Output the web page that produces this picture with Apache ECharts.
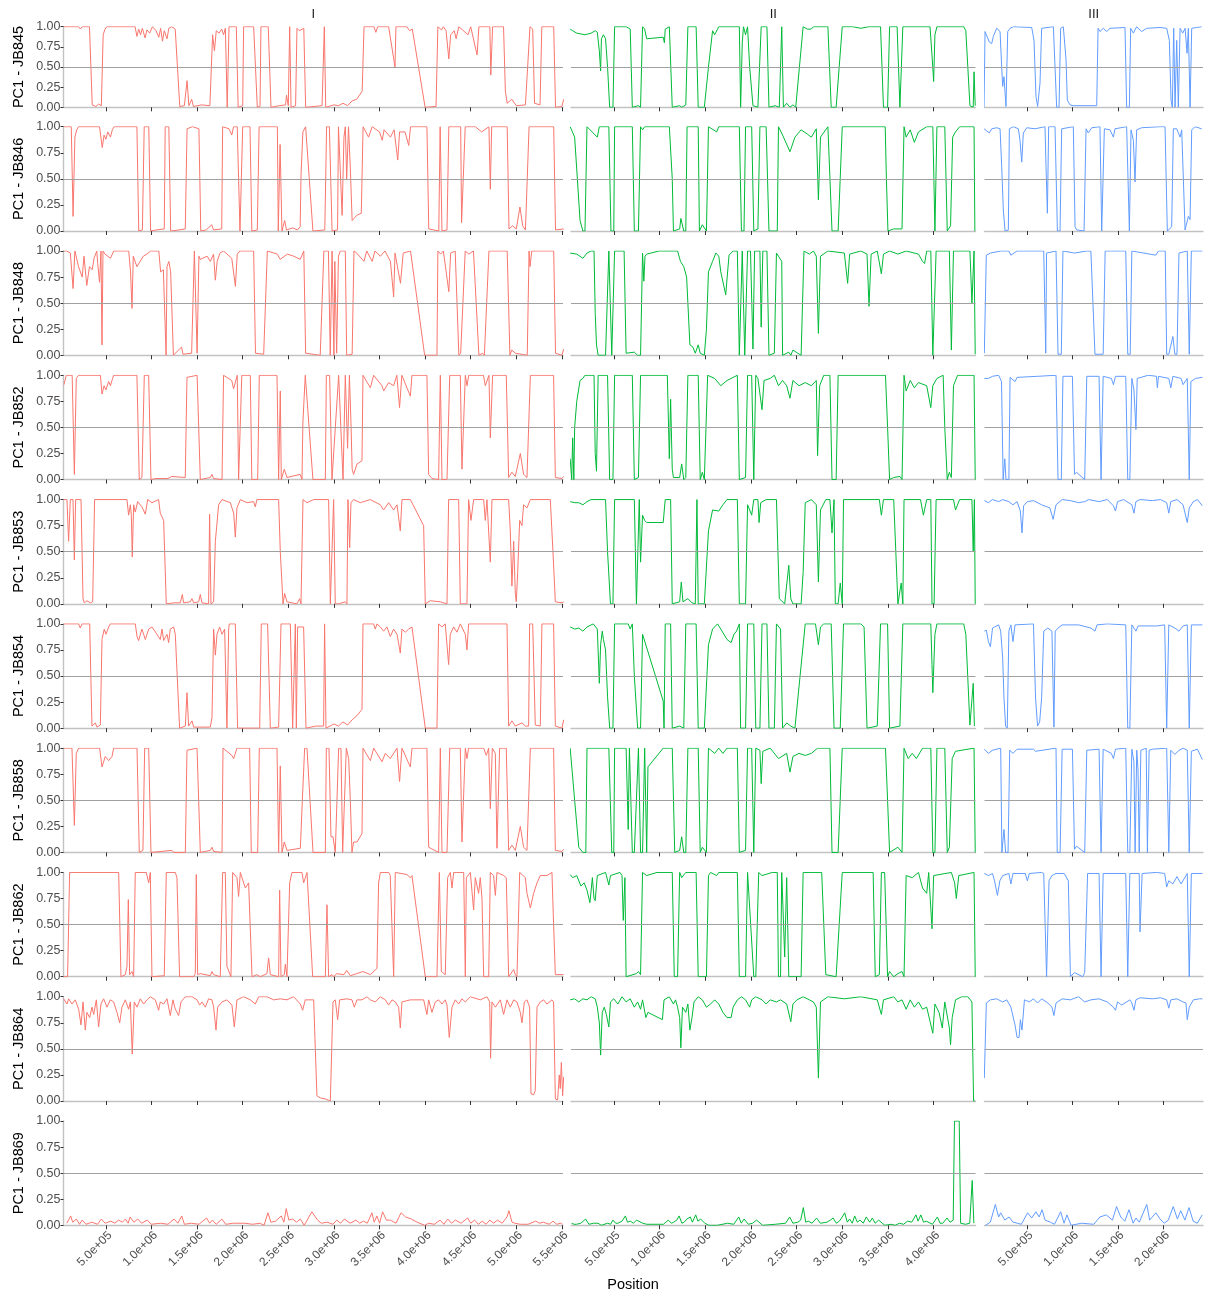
<!DOCTYPE html>
<html>
<head>
<meta charset="utf-8">
<script src="https://cdn.jsdelivr.net/npm/echarts@6/dist/echarts.min.js"></script>
<style>
html,body{margin:0;padding:0;background:#fff;}
#chart{width:1209px;height:1298px;}
</style>
</head>
<body>
<div id="chart"></div>
<script>
// Sample / chromosome layout
const samples = ['JB845','JB846','JB848','JB852','JB853','JB854','JB858','JB862','JB864','JB869'];
const chromosomes = ['I','II','III'];
const chromColors = ['#F8766D','#00BA38','#619CFF'];
// x tick positions (Mb)
const ticksI = [0.5,1,1.5,2,2.5,3,3.5,4,4.5,5,5.5];
const ticksII = [0.5,1,1.5,2,2.5,3,3.5,4];
const ticksIII = [0.5,1,1.5,2];

// Each track: [position (Mb), PC1 score]
const jb845_I = [[0.04,1],[0.20,1],[0.22,0.97],[0.24,1],[0.32,1],[0.35,0.03],[0.37,0.05],[0.39,0.01],[0.42,0.04],[0.45,0.02],[0.47,0.9],[0.49,0.97],[0.51,1],[0.82,1],[0.84,0.88],[0.86,0.97],[0.88,0.9],[0.90,0.98],[0.93,0.86],[0.95,0.96],[0.98,0.92],[1.01,1],[1.05,0.95],[1.08,0.87],[1.10,0.98],[1.12,0.82],[1.14,0.95],[1.17,0.85],[1.19,0.98],[1.22,1],[1.26,0.97],[1.31,0.01],[1.36,0.02],[1.39,0.33],[1.41,0.02],[1.44,0.1],[1.46,0.01],[1.55,0.03],[1.64,0.02],[1.67,0.9],[1.69,0.7],[1.71,0.95],[1.74,0.92],[1.77,0.97],[1.79,0.9],[1.81,0.98],[1.83,0],[1.85,1],[1.93,1],[1.95,0],[2.00,0.02],[2.01,1],[2.12,1],[2.16,0],[2.19,0.01],[2.20,1],[2.28,1],[2.31,0],[2.40,0.02],[2.47,0.03],[2.48,0.15],[2.50,0.02],[2.515,1],[2.53,0],[2.58,0.02],[2.595,0.98],[2.62,0.95],[2.67,0.98],[2.69,0],[2.87,0.02],[2.895,1],[2.91,0],[3.0,0.03],[3.05,0.02],[3.10,0.05],[3.15,0.02],[3.20,0.08],[3.25,0.1],[3.31,0.2],[3.33,1],[3.44,1],[3.46,0.93],[3.48,1],[3.60,1],[3.67,0.5],[3.68,1],[3.80,1],[3.83,0.95],[3.86,0.97],[4.00,0],[4.12,0.01],[4.14,1],[4.18,0.96],[4.20,1],[4.23,0.95],[4.26,0.6],[4.28,0.9],[4.32,0.95],[4.34,0.85],[4.37,1],[4.47,0.9],[4.50,1],[4.57,0.65],[4.59,1],[4.71,1],[4.72,0.4],[4.74,1],[4.86,1],[4.88,0.2],[4.90,0.05],[4.95,0.1],[5.00,0.02],[5.10,0.03],[5.12,0.05],[5.15,1],[5.18,0.97],[5.20,0.05],[5.26,0.03],[5.28,1],[5.41,1],[5.43,0],[5.50,0.01],[5.52,0.1]];
const jb845_II = [[0.023,0.97],[0.05,0.95],[0.095,0.92],[0.185,0.9],[0.252,0.92],[0.297,0.95],[0.32,0.93],[0.342,0.7],[0.356,0.45],[0.365,0.85],[0.387,0.9],[0.41,0.85],[0.432,0.5],[0.455,0],[0.491,0],[0.509,1],[0.635,1],[0.68,0.97],[0.703,0],[0.77,0.02],[0.793,0],[0.815,1],[0.838,0.97],[0.86,0.85],[1.041,0.87],[1.054,0.8],[1.063,0.97],[1.108,1],[1.14,0],[1.221,0.02],[1.243,0],[1.288,0.03],[1.311,1],[1.401,1],[1.424,0],[1.491,0],[1.536,0.5],[1.581,0.95],[1.604,0.9],[1.649,1],[1.874,1],[1.888,0],[1.906,0.8],[1.919,1],[1.942,0.9],[1.964,1],[1.987,0.5],[2.023,0.02],[2.077,0],[2.113,1],[2.176,1],[2.198,0],[2.266,0.02],[2.311,0],[2.338,1],[2.356,0],[2.392,0.05],[2.428,0],[2.46,0.03],[2.491,0],[2.572,1],[2.617,0.97],[2.662,0.97],[2.685,1],[2.843,1],[2.879,0],[2.933,0],[3.0,1],[3.113,1],[3.203,0.98],[3.293,1],[3.419,1],[3.451,0],[3.496,0],[3.518,1],[3.6,1],[3.631,0],[3.663,1],[3.96,1],[3.982,0.65],[4.0,0.32],[4.014,0.9],[4.036,1],[4.329,1],[4.352,0.95],[4.397,0.02],[4.433,0],[4.442,0.44],[4.455,0.02]];
const jb845_III = [[0.029,0],[0.04,0.94],[0.058,0.96],[0.087,0.81],[0.113,0.79],[0.131,0.88],[0.168,0.98],[0.205,0.94],[0.223,0.5],[0.234,0.26],[0.248,0.38],[0.27,0.01],[0.289,0.94],[0.314,0.98],[0.351,1],[0.553,0.99],[0.578,0.83],[0.6,0.13],[0.618,0.01],[0.644,0.3],[0.662,0.98],[0.681,1],[0.791,1],[0.809,0.5],[0.827,0],[0.853,0],[0.871,0.98],[0.9,1],[0.93,0.59],[0.944,0.09],[0.974,0.03],[1.01,0.02],[1.23,0.02],[1.267,0.02],[1.282,0.98],[1.303,0.94],[1.34,0.98],[1.377,0.94],[1.413,0.98],[1.578,0.99],[1.596,0],[1.626,0],[1.64,0.98],[1.67,0.92],[1.706,1],[1.761,0.94],[1.816,0.98],[1.963,0.99],[2.036,0.98],[2.065,0.83],[2.084,0.09],[2.098,0],[2.113,0.98],[2.128,0],[2.146,0.83],[2.164,0],[2.183,0.98],[2.212,0.92],[2.238,0.98],[2.26,0.67],[2.274,0.98],[2.293,0],[2.311,0.98],[2.329,0.96],[2.366,0.99],[2.42,1]];

const jb846_I = [[0.04,1],[0.12,1],[0.14,0.14],[0.16,0.9],[0.18,0.97],[0.2,1],[0.43,1],[0.46,0.8],[0.48,0.92],[0.5,0.88],[0.52,0.95],[0.55,0.9],[0.57,0.97],[0.59,1],[0.84,1],[0.86,0],[0.9,0.01],[0.92,1],[0.97,1],[0.99,0],[1.05,0.01],[1.14,0.02],[1.15,1],[1.19,1],[1.21,0],[1.3,0.01],[1.37,0.02],[1.39,0.98],[1.45,1],[1.52,0.98],[1.54,0],[1.6,0.01],[1.66,0.06],[1.68,0.01],[1.77,0.02],[1.78,1],[1.85,0.98],[1.88,0.92],[1.9,1],[1.94,1],[1.97,0],[1.99,0.01],[2.0,1],[2.08,1],[2.10,0],[2.16,0.01],[2.18,1],[2.38,1],[2.39,0],[2.41,0.83],[2.43,0],[2.46,0.1],[2.48,0.01],[2.55,0.03],[2.6,0.01],[2.63,0.04],[2.64,0.55],[2.66,0.95],[2.69,1],[2.77,0],[2.9,0.01],[2.92,1],[2.95,1],[2.98,0],[3.04,0.01],[3.05,1],[3.07,1],[3.09,0.15],[3.11,0.9],[3.125,1],[3.14,0.5],[3.16,1],[3.18,0.6],[3.20,0.1],[3.22,0.12],[3.25,0.15],[3.30,0.17],[3.32,1],[3.38,0.9],[3.42,1],[3.5,0.95],[3.53,0.87],[3.55,0.97],[3.62,0.9],[3.66,0.97],[3.70,0.68],[3.72,0.95],[3.78,0.95],[3.82,0.82],[3.84,1],[4.02,1],[4.04,0.02],[4.15,0],[4.165,1],[4.185,0],[4.24,0.01],[4.26,1],[4.39,1],[4.40,0.08],[4.44,1],[4.55,1],[4.62,0.95],[4.70,1],[4.715,0.4],[4.73,1],[4.9,1],[4.92,0.02],[4.96,0.05],[5.0,0.02],[5.04,0.23],[5.07,0.05],[5.10,0.01],[5.14,1],[5.41,1],[5.43,0.01],[5.52,0.02]];
const jb846_II = [[0.023,1],[0.072,0.9],[0.131,0.1],[0.162,0],[0.185,0],[0.207,1],[0.32,0.9],[0.342,1],[0.446,1],[0.469,0],[0.5,0],[0.509,1],[0.703,1],[0.725,0],[0.77,0],[0.793,1],[0.815,0.97],[0.838,1],[1.108,1],[1.14,0.5],[1.153,0],[1.221,0.02],[1.234,0.12],[1.266,0],[1.288,0],[1.302,1],[1.424,1],[1.437,0],[1.469,0.06],[1.514,0],[1.536,1],[1.626,0.95],[1.649,1],[1.874,1],[1.897,0],[1.925,0],[1.942,1],[2.009,1],[2.032,0],[2.077,0.02],[2.099,1],[2.167,1],[2.198,0],[2.289,0],[2.302,1],[2.347,0.92],[2.428,0.76],[2.482,0.9],[2.55,0.97],[2.617,0.93],[2.662,0.9],[2.716,0.98],[2.739,0.3],[2.762,0.9],[2.843,1],[2.888,0],[2.955,0],[3.0,1],[3.47,1],[3.483,0.5],[3.50,0],[3.563,0.02],[3.654,0.02],[3.676,1],[3.699,0.9],[3.744,0.97],[3.789,0.85],[3.834,0.95],[3.924,1],[3.991,1],[4.014,0],[4.036,1],[4.122,1],[4.149,0],[4.185,0.05],[4.208,0.9],[4.239,0.95],[4.284,1],[4.442,1],[4.451,0]];
const jb846_III = [[0.029,0.98],[0.058,0.96],[0.087,0.94],[0.113,0.98],[0.168,0.99],[0.205,0.98],[0.223,0.62],[0.241,0.2],[0.26,0],[0.278,0],[0.296,0.01],[0.307,0.98],[0.351,1],[0.406,0.98],[0.424,0.87],[0.443,0.66],[0.461,0.94],[0.498,0.99],[0.589,0.98],[0.699,1],[0.71,0.62],[0.725,0.17],[0.739,1],[0.809,1],[0.835,0],[0.864,0],[0.882,0.98],[1.01,1],[1.029,0.04],[1.047,0.01],[1.128,0],[1.15,0.98],[1.175,0.94],[1.212,0.99],[1.303,1],[1.322,0],[1.34,0],[1.351,0.98],[1.413,0.97],[1.45,0.9],[1.468,0.98],[1.596,1],[1.626,0],[1.644,0.97],[1.67,0.87],[1.688,0.47],[1.706,0.97],[1.761,0.99],[1.963,1],[2.018,1],[2.043,0],[2.091,0.04],[2.109,0.98],[2.146,0.98],[2.183,0.9],[2.201,0.97],[2.238,0.01],[2.274,0.14],[2.293,0.11],[2.311,0.97],[2.348,1],[2.42,0.98]];

const jb848_I = [[0.04,1],[0.07,1],[0.11,0.98],[0.14,0.64],[0.16,1],[0.20,0.85],[0.24,0.75],[0.26,0.95],[0.29,0.67],[0.32,0.85],[0.35,0.82],[0.37,0.93],[0.40,1],[0.41,0.88],[0.43,0.7],[0.446,1],[0.457,0.1],[0.468,1],[0.49,0.97],[0.55,0.93],[0.585,1],[0.75,1],[0.77,0.8],[0.786,0.45],[0.80,0.95],[0.84,0.85],[0.91,0.95],[0.95,0.97],[0.99,1],[1.08,1],[1.10,0.8],[1.13,0.82],[1.16,0],[1.17,0.85],[1.19,0.9],[1.21,0.8],[1.24,0],[1.26,0.01],[1.33,0.08],[1.345,0.01],[1.44,0.02],[1.47,1],[1.50,0.02],[1.52,0.95],[1.535,0.92],[1.61,0.95],[1.645,0.9],[1.68,0.97],[1.70,0.72],[1.72,0.9],[1.75,0.98],[1.79,1],[1.88,0.93],[1.92,0.66],[1.94,0.97],[1.97,1],[2.12,1],[2.14,0.02],[2.23,0.01],[2.27,1],[2.38,0.97],[2.41,0.92],[2.49,0.97],[2.56,0.95],[2.63,0.92],[2.67,1],[2.69,0.02],[2.85,0],[2.89,1],[2.94,1],[2.96,0],[2.98,1],[3.00,0],[3.01,0.9],[3.03,0.02],[3.05,0.95],[3.07,1],[3.125,1],[3.14,0],[3.20,0.01],[3.22,1],[3.25,0.98],[3.33,0.9],[3.36,1],[3.42,0.9],[3.45,1],[3.51,0.95],[3.56,1],[3.62,0.9],[3.655,0.56],[3.67,0.98],[3.73,0.69],[3.76,0.98],[3.84,1],[3.995,0],[4.13,0],[4.14,1],[4.17,0.97],[4.20,1],[4.26,0.61],[4.28,0.98],[4.33,1],[4.37,0],[4.39,0.02],[4.44,1],[4.48,0.97],[4.53,1],[4.59,0],[4.63,0.02],[4.65,0],[4.70,1],[4.90,1],[4.93,0],[4.95,0.05],[4.99,0.02],[5.12,0],[5.14,1],[5.15,0.85],[5.17,1],[5.41,1],[5.43,0.02],[5.50,0],[5.52,0.06]];
const jb848_II = [[0.023,0.98],[0.095,0.97],[0.162,0.93],[0.207,0.98],[0.252,1],[0.284,1],[0.297,0.4],[0.311,0.1],[0.329,0],[0.41,0],[0.446,1],[0.478,0],[0.509,1],[0.613,1],[0.635,0.02],[0.725,0.03],[0.761,0],[0.793,0],[0.815,0.98],[0.829,0.71],[0.842,0.95],[0.86,0.97],[0.996,1],[1.198,1],[1.23,0.9],[1.266,0.85],[1.297,0.75],[1.311,0.5],[1.333,0.1],[1.365,0.08],[1.392,0.02],[1.424,0.1],[1.446,0.02],[1.491,0],[1.514,0.25],[1.536,0.8],[1.581,0.9],[1.617,0.98],[1.649,0.95],[1.671,0.8],[1.725,0.58],[1.761,0.96],[1.806,1],[1.852,1],[1.874,0],[1.906,1],[1.933,0],[1.964,1],[1.996,1],[2.023,0.06],[2.041,1],[2.099,1],[2.113,0.27],[2.131,1],[2.176,1],[2.198,0],[2.257,0.02],[2.28,0.98],[2.302,0.95],[2.338,0.9],[2.347,0],[2.415,0.03],[2.437,0],[2.46,0.05],[2.55,0],[2.581,1],[2.64,0.97],[2.685,1],[2.716,0.95],[2.739,0.21],[2.762,0.95],[2.843,1],[3.023,0.98],[3.059,0.69],[3.081,0.97],[3.203,1],[3.271,0.97],[3.293,0.47],[3.316,0.97],[3.383,1],[3.428,0.78],[3.451,0.97],[3.518,1],[3.609,0.97],[3.699,1],[3.834,0.97],[3.879,0.9],[3.901,0.88],[3.924,1],[3.969,1],[3.991,0],[4.027,1],[4.172,1],[4.194,0.05],[4.217,1],[4.397,1],[4.419,0.5],[4.442,1],[4.455,0.01]];
const jb848_III = [[0.032,0.02],[0.054,0.96],[0.099,0.98],[0.212,1],[0.302,1],[0.324,0.96],[0.392,1],[0.685,1],[0.707,0.02],[0.716,0.98],[0.82,1],[0.842,0.01],[0.878,0.01],[0.896,1],[1.023,0.98],[1.158,1],[1.203,1],[1.248,0.01],[1.338,0.01],[1.36,1],[1.586,1],[1.608,0.01],[1.635,0.01],[1.653,1],[1.915,0.96],[1.946,1],[2.02,1],[2.036,0.01],[2.059,0.01],[2.104,0.18],[2.126,0.01],[2.149,0.01],[2.171,0.98],[2.216,0.99],[2.262,1],[2.284,0.01],[2.307,1],[2.428,1]];

const jb852_I = [[0.04,0.91],[0.066,1],[0.13,1],[0.154,0.05],[0.175,0.97],[0.2,1],[0.44,1],[0.457,0.82],[0.48,0.9],[0.5,0.86],[0.53,0.94],[0.55,0.9],[0.57,0.96],[0.585,1],[0.84,1],[0.866,0],[0.895,0.02],[0.921,1],[0.969,1],[0.994,0],[1.05,0.01],[1.18,0.01],[1.22,0.03],[1.37,0.02],[1.389,0.98],[1.50,1],[1.535,0],[1.645,0.02],[1.663,0.05],[1.68,0.01],[1.773,0],[1.79,1],[1.88,0.95],[1.90,0.87],[1.94,1],[1.955,0],[1.99,1],[2.083,1],[2.10,0],[2.164,0],[2.182,1],[2.376,1],[2.394,0],[2.412,0.85],[2.423,0],[2.456,0.1],[2.485,0.02],[2.63,0.05],[2.65,0],[2.66,0.55],[2.686,1],[2.705,1],[2.77,0],[2.906,0],[2.917,1],[2.953,1],[2.979,0],[3.052,1],[3.07,1],[3.10,0],[3.125,1],[3.15,0.3],[3.17,1],[3.187,0.55],[3.20,0.1],[3.216,0.05],[3.253,0.15],[3.308,0.18],[3.319,1],[3.40,0.88],[3.436,1],[3.527,0.9],[3.545,0.85],[3.60,0.93],[3.655,0.9],[3.69,1],[3.72,0.69],[3.745,1],[3.838,0.8],[3.856,1],[4.02,1],[4.039,0.05],[4.076,0.01],[4.148,0],[4.167,1],[4.185,0],[4.24,0],[4.27,1],[4.386,1],[4.404,0.1],[4.441,1],[4.46,0.9],[4.478,1],[4.64,1],[4.66,0.9],[4.70,1],[4.715,0.4],[4.74,1],[4.89,1],[4.916,0.02],[4.952,0.07],[4.989,0.03],[5.044,0.25],[5.08,0.05],[5.117,0.02],[5.154,1],[5.409,1],[5.428,0.02],[5.50,0.01],[5.519,0.03]];
const jb852_II = [[0.023,0.2],[0.04,0],[0.05,0.4],[0.063,0],[0.072,0.5],[0.095,0.75],[0.131,0.95],[0.162,0.97],[0.185,1],[0.284,1],[0.297,0.25],[0.311,0.08],[0.329,1],[0.432,1],[0.455,0],[0.491,0],[0.509,1],[0.703,1],[0.725,0],[0.77,0.02],[0.793,1],[1.086,1],[1.108,0.2],[1.122,0.77],[1.14,0.1],[1.153,0.02],[1.221,0.02],[1.243,0.15],[1.266,0],[1.288,0.02],[1.311,1],[1.424,1],[1.446,0],[1.469,0.07],[1.491,0],[1.527,1],[1.604,0.97],[1.671,0.9],[1.739,0.95],[1.852,1],[1.874,0],[1.942,0.02],[1.964,1],[2.009,1],[2.032,0],[2.054,1],[2.077,0.97],[2.122,0.67],[2.144,0.95],[2.212,0.97],[2.257,1],[2.302,0.9],[2.347,0.95],[2.392,0.9],[2.428,0.78],[2.46,0.95],[2.527,0.9],[2.595,0.93],[2.662,0.9],[2.716,0.95],[2.73,0.23],[2.753,0.9],[2.798,1],[2.865,1],[2.888,0],[2.933,0],[2.955,1],[3.473,1],[3.496,0.5],[3.518,0],[3.563,0.02],[3.631,0.03],[3.654,0],[3.676,1],[3.699,0.85],[3.744,0.95],[3.789,0.88],[3.834,0.93],[3.924,0.9],[3.969,0.69],[3.991,0.9],[4.036,0.97],[4.104,1],[4.122,0.5],[4.149,0],[4.172,0.07],[4.194,0.02],[4.217,0.9],[4.262,1],[4.442,1],[4.455,0]];
const jb852_III = [[0.032,0.97],[0.077,0.97],[0.122,0.99],[0.189,1],[0.221,0.94],[0.239,0],[0.257,0.2],[0.27,0],[0.302,0],[0.315,0.98],[0.369,0.94],[0.392,0.98],[0.617,0.99],[0.82,1],[0.842,0],[0.878,0],[0.896,0.99],[1.0,0.99],[1.023,0.05],[1.045,0.07],[1.135,0],[1.158,0.99],[1.293,0.99],[1.315,0],[1.338,0.99],[1.428,0.97],[1.451,0.91],[1.473,0.99],[1.586,0.99],[1.608,0],[1.631,0],[1.653,0.97],[1.676,0.86],[1.698,0.48],[1.712,0.97],[1.834,1],[1.924,0.99],[1.933,0.88],[1.946,0.99],[2.059,0.97],[2.081,0.88],[2.104,0.99],[2.194,0.97],[2.216,0.91],[2.262,0.97],[2.284,0],[2.302,0.94],[2.352,0.97],[2.428,0.98]];

const jb853_I = [[0.037,1],[0.073,1],[0.091,0.6],[0.11,1],[0.139,1],[0.154,0.42],[0.168,1],[0.227,1],[0.249,0.05],[0.263,0.01],[0.292,0.03],[0.329,0.01],[0.355,0.02],[0.376,1],[0.731,1],[0.749,0.85],[0.768,0.95],[0.779,0.85],[0.789,0.45],[0.804,0.95],[0.822,0.88],[0.848,0.98],[0.895,0.93],[0.932,0.86],[0.958,1],[1.005,0.97],[1.078,1],[1.096,0.87],[1.133,0.8],[1.162,0],[1.25,0.01],[1.316,0.01],[1.338,0.09],[1.352,0.01],[1.425,0.02],[1.444,0.05],[1.462,0.01],[1.517,0.02],[1.535,0.09],[1.553,0.01],[1.626,0],[1.637,0.86],[1.652,0],[1.681,0.02],[1.70,0.6],[1.736,0.95],[1.773,1],[1.864,0.97],[1.901,0.87],[1.919,0.64],[1.937,0.92],[1.974,1],[2.047,0.97],[2.12,0.98],[2.138,0.93],[2.156,1],[2.394,1],[2.412,0.5],[2.442,0],[2.46,0.1],[2.485,0.02],[2.595,0],[2.624,0.05],[2.639,0],[2.661,1],[2.705,0.97],[2.778,1],[2.942,1],[2.961,0],[2.979,0],[2.997,1],[3.015,0],[3.052,0],[3.125,0.02],[3.143,0],[3.154,1],[3.173,0.54],[3.187,0.97],[3.216,1],[3.289,0.97],[3.399,1],[3.509,0.95],[3.545,0.9],[3.60,0.97],[3.655,0.9],[3.692,0.95],[3.728,0.7],[3.746,1],[3.838,1],[3.984,0.75],[4.002,0],[4.057,0.03],[4.167,0.02],[4.24,0],[4.258,1],[4.368,1],[4.386,0],[4.459,0],[4.477,1],[4.503,0.8],[4.532,1],[4.642,1],[4.66,0.8],[4.678,1],[4.697,1],[4.715,0.4],[4.733,1],[4.916,1],[4.934,0.7],[4.952,0.17],[4.971,0.6],[4.989,0.1],[5.0,0.02],[5.015,0.3],[5.037,0.8],[5.062,0.75],[5.08,0.95],[5.117,0.92],[5.154,1],[5.373,1],[5.402,0.5],[5.428,0.02],[5.501,0.01],[5.519,0.02]];
const jb853_II = [[0.023,0.98],[0.072,0.97],[0.117,0.97],[0.162,0.95],[0.207,0.98],[0.252,1],[0.41,1],[0.432,0.5],[0.464,0],[0.491,0],[0.509,1],[0.725,1],[0.748,0],[0.761,0],[0.779,1],[0.793,0.4],[0.815,0.85],[0.838,0.8],[0.86,0.78],[1.041,0.78],[1.063,1],[1.122,1],[1.14,0],[1.221,0.02],[1.239,0.21],[1.257,0.02],[1.311,0.05],[1.356,0.01],[1.392,0],[1.41,1],[1.424,0],[1.491,0],[1.536,0.7],[1.581,0.9],[1.649,0.89],[1.694,0.95],[1.739,1],[1.852,1],[1.874,0],[1.942,0],[1.964,0.95],[1.987,0.9],[2.009,0.85],[2.032,1],[2.077,1],[2.09,0.78],[2.108,0.97],[2.167,1],[2.28,1],[2.311,0.05],[2.37,0],[2.415,0.37],[2.437,0.05],[2.46,0],[2.55,0],[2.572,0.3],[2.595,0.97],[2.662,1],[2.716,0.95],[2.739,0.21],[2.762,0.9],[2.82,1],[2.865,1],[2.888,0.68],[2.91,1],[2.924,0],[2.955,0],[2.978,0.2],[3.0,0],[3.014,1],[3.406,1],[3.428,0.85],[3.451,1],[3.563,1],[3.609,0],[3.645,0.2],[3.663,0],[3.676,1],[3.856,1],[3.888,0.85],[3.924,1],[3.969,1],[3.982,0],[4.005,0],[4.027,1],[4.217,1],[4.239,0.9],[4.284,1],[4.419,1],[4.433,0.5],[4.446,1],[4.455,0]];
const jb853_III = [[0.032,0.99],[0.077,0.97],[0.122,1],[0.189,0.98],[0.234,1],[0.302,0.98],[0.347,0.95],[0.392,0.98],[0.428,0.89],[0.446,0.68],[0.464,0.94],[0.505,0.98],[0.572,0.99],[0.662,0.95],[0.752,0.92],[0.788,0.81],[0.82,0.95],[0.887,1],[0.978,0.99],[1.068,0.97],[1.135,0.98],[1.18,1],[1.293,0.98],[1.383,1],[1.451,0.94],[1.473,0.89],[1.496,0.98],[1.563,1],[1.653,0.95],[1.676,0.87],[1.698,0.98],[1.743,1],[1.879,0.99],[1.969,1],[2.036,0.97],[2.059,0.87],[2.081,0.98],[2.149,1],[2.216,0.95],[2.262,0.78],[2.284,0.92],[2.329,0.98],[2.374,1],[2.428,0.94]];

const jb854_I = [[0.037,1],[0.201,1],[0.219,0.96],[0.238,1],[0.322,1],[0.347,0.02],[0.384,0.05],[0.402,0.01],[0.439,0.03],[0.457,0.85],[0.482,0.95],[0.50,0.9],[0.53,0.97],[0.548,1],[0.822,1],[0.841,0.88],[0.859,0.84],[0.895,0.95],[0.932,0.85],[0.969,0.95],[1.005,0.97],[1.06,0.9],[1.096,0.85],[1.115,0.95],[1.133,0.84],[1.17,0.9],[1.188,0.82],[1.206,0.95],[1.243,0.97],[1.261,0.9],[1.308,0],[1.371,0.02],[1.389,0.34],[1.407,0.02],[1.444,0.07],[1.462,0.01],[1.645,0.01],[1.663,0.1],[1.681,0.95],[1.70,0.7],[1.718,0.9],[1.747,0.97],[1.773,0.9],[1.802,0.95],[1.827,0],[1.846,0.95],[1.853,1],[1.919,1],[1.944,0],[2.186,0],[2.204,1],[2.273,1],[2.303,0],[2.394,0.01],[2.42,1],[2.522,1],[2.548,0],[2.577,1],[2.588,0],[2.602,0.97],[2.668,0.97],[2.694,0],[2.80,0.02],[2.887,0.02],[2.898,1],[2.913,0],[3.0,0.04],[3.05,0.02],[3.10,0.06],[3.15,0.03],[3.20,0.08],[3.253,0.12],[3.308,0.18],[3.319,1],[3.436,1],[3.454,0.95],[3.472,1],[3.509,0.97],[3.545,0.93],[3.582,0.97],[3.618,0.88],[3.655,0.95],[3.692,0.9],[3.728,0.72],[3.746,0.95],[3.783,0.92],[3.819,0.95],[3.856,0.97],[4.002,0],[4.13,0],[4.148,1],[4.185,0.97],[4.221,1],[4.258,0.61],[4.276,0.9],[4.313,0.97],[4.349,0.92],[4.386,1],[4.441,0.9],[4.459,0.75],[4.477,1],[4.898,1],[4.916,0.02],[4.952,0.07],[4.989,0.02],[5.062,0.05],[5.099,0.02],[5.135,0.02],[5.146,1],[5.18,1],[5.208,0.03],[5.263,0.02],[5.281,1],[5.409,1],[5.428,0.02],[5.501,0],[5.519,0.08]];
const jb854_II = [[0.023,0.97],[0.072,0.95],[0.117,0.96],[0.162,0.93],[0.207,0.97],[0.275,1],[0.32,0.95],[0.342,0.43],[0.356,0.8],[0.374,0.93],[0.387,0.85],[0.41,0.75],[0.432,0.3],[0.455,0],[0.491,0],[0.509,1],[0.658,1],[0.68,0.95],[0.703,1],[0.725,0.5],[0.761,0],[0.793,0],[0.815,0.9],[1.041,0.26],[1.05,0],[1.063,1],[1.122,1],[1.14,0],[1.221,0.02],[1.266,0],[1.288,1],[1.401,1],[1.424,0],[1.491,0],[1.536,0.8],[1.581,0.95],[1.635,1],[1.671,0.95],[1.739,0.85],[1.784,0.82],[1.815,0.9],[1.843,0.93],[1.874,1],[1.888,0],[1.942,0],[1.964,1],[2.032,1],[2.054,0],[2.099,0],[2.122,1],[2.176,1],[2.198,0],[2.257,0],[2.28,1],[2.325,0.95],[2.347,0],[2.392,0.05],[2.437,0.02],[2.482,0],[2.595,1],[2.707,1],[2.739,0.8],[2.762,0.97],[2.798,1],[2.879,1],[2.91,0],[2.978,0],[3.014,1],[3.203,1],[3.239,0.97],[3.271,0],[3.383,0.02],[3.419,1],[3.496,1],[3.518,0],[3.631,0.02],[3.663,1],[3.969,1],[3.982,0.61],[3.991,0.34],[4.014,0.9],[4.036,1],[4.329,1],[4.352,0.9],[4.397,0.03],[4.433,0.43],[4.446,0.02]];
const jb854_III = [[0.032,0.93],[0.054,0.94],[0.077,0.83],[0.099,0.78],[0.122,0.96],[0.144,0.97],[0.189,0.99],[0.212,0.93],[0.234,0.67],[0.248,0.29],[0.266,0.02],[0.284,0],[0.302,0.93],[0.324,0.99],[0.347,0.83],[0.369,0.99],[0.572,1],[0.595,0.29],[0.617,0.02],[0.64,0.06],[0.662,0.29],[0.685,0.93],[0.73,0.96],[0.775,0.93],[0.797,0.01],[0.811,0.93],[0.842,0.96],[0.887,0.99],[1.068,0.99],[1.203,0.96],[1.248,0.93],[1.27,0.99],[1.383,1],[1.586,0.99],[1.608,0],[1.631,0],[1.653,0.99],[1.698,0.93],[1.721,0.98],[1.924,0.98],[2.014,0.99],[2.036,0],[2.059,0.99],[2.126,0.96],[2.171,0.93],[2.216,0.98],[2.262,0.99],[2.284,0],[2.307,0.99],[2.428,0.99]];

const jb858_I = [[0.037,1],[0.128,1],[0.154,0.26],[0.175,0.95],[0.201,1],[0.431,1],[0.457,0.82],[0.493,0.92],[0.53,0.88],[0.567,0.92],[0.585,1],[0.841,1],[0.866,0],[0.906,0.02],[0.925,1],[0.969,1],[0.994,0],[1.224,0.02],[1.243,0],[1.371,0],[1.389,0.98],[1.499,1],[1.535,0],[1.645,0.02],[1.663,0.05],[1.681,0.01],[1.773,0],[1.784,1],[1.882,0.93],[1.901,0.9],[1.937,1],[2.076,1],[2.094,0],[2.164,0],[2.182,1],[2.376,1],[2.394,0],[2.412,0.83],[2.431,0],[2.456,0.1],[2.485,0.02],[2.632,0.04],[2.654,0.5],[2.679,1],[2.705,1],[2.771,0],[2.906,0],[2.917,1],[2.946,1],[2.968,0.15],[2.99,0.15],[3.015,0],[3.052,1],[3.077,1],[3.096,0],[3.114,0],[3.136,1],[3.162,0.9],[3.18,0.5],[3.198,0],[3.216,0.1],[3.253,0.1],[3.308,0.18],[3.319,1],[3.40,0.88],[3.436,1],[3.527,0.87],[3.564,0.95],[3.618,0.9],[3.692,1],[3.72,0.68],[3.746,1],[3.838,0.82],[3.856,1],[4.02,1],[4.039,0.05],[4.148,0],[4.167,1],[4.185,0],[4.24,0],[4.27,1],[4.386,1],[4.404,0.1],[4.441,1],[4.459,0.9],[4.477,1],[4.642,1],[4.671,0.93],[4.697,1],[4.715,0.42],[4.737,1],[4.77,0.95],[4.788,0.04],[4.817,1],[4.89,1],[4.916,0.02],[4.952,0.07],[4.989,0.02],[5.044,0.25],[5.08,0.05],[5.117,0.02],[5.154,1],[5.409,1],[5.428,0.02],[5.50,0.01],[5.519,0.03]];
const jb858_II = [[0.023,1],[0.072,0.5],[0.117,0.05],[0.162,0],[0.194,0],[0.207,1],[0.41,1],[0.446,1],[0.478,0],[0.5,0],[0.509,1],[0.635,1],[0.658,0.22],[0.671,1],[0.703,0],[0.725,0],[0.77,1],[0.793,0],[0.815,0],[0.838,1],[0.86,0],[0.874,0.82],[1.041,1],[1.14,1],[1.167,0],[1.221,0.02],[1.243,0.15],[1.266,0],[1.288,0],[1.311,1],[1.424,1],[1.446,0],[1.469,0.05],[1.514,0],[1.536,1],[1.604,0.95],[1.649,1],[1.694,0.95],[1.739,1],[1.852,1],[1.874,0],[1.942,0.02],[1.964,1],[2.009,1],[2.032,0],[2.054,1],[2.099,0.98],[2.113,0.66],[2.131,0.97],[2.212,1],[2.302,0.9],[2.392,0.95],[2.428,0.77],[2.46,0.92],[2.527,0.95],[2.595,0.93],[2.662,0.95],[2.73,1],[2.865,1],[2.888,0],[2.955,0],[3.0,1],[3.473,1],[3.496,0.5],[3.518,0],[3.609,0.05],[3.654,0],[3.676,1],[3.721,0.9],[3.766,0.95],[3.811,0.9],[3.879,1],[3.969,1],[3.991,0],[4.014,0],[4.036,1],[4.122,1],[4.149,0],[4.172,0.05],[4.203,0.9],[4.239,0.97],[4.442,1],[4.455,0]];
const jb858_III = [[0.032,0.99],[0.077,0.95],[0.122,0.98],[0.212,1],[0.225,0],[0.248,0.22],[0.266,0],[0.293,0],[0.311,0.98],[0.347,0.95],[0.392,0.99],[0.572,0.99],[0.595,0.97],[0.82,1],[0.833,0],[0.865,0],[0.887,0.99],[1.0,0.99],[1.023,0.03],[1.045,0.06],[1.135,0],[1.158,0.98],[1.293,0.99],[1.315,0],[1.338,0.99],[1.428,0.95],[1.451,0.9],[1.473,0.99],[1.586,1],[1.608,0],[1.631,0],[1.653,0.99],[1.676,0.87],[1.689,0],[1.707,0.98],[1.721,0.79],[1.734,0],[1.752,0.98],[1.811,1],[1.824,0],[1.843,0.98],[1.879,0.99],[2.036,1],[2.059,0],[2.081,0.98],[2.126,0.94],[2.171,0.98],[2.216,1],[2.262,0.98],[2.284,0],[2.307,0.97],[2.374,0.99],[2.428,0.89]];

const jb862_I = [[0.037,0],[0.08,0],[0.102,1],[0.64,1],[0.665,0],[0.713,0.02],[0.731,0.1],[0.746,0.74],[0.76,0.02],[0.786,0.05],[0.804,0],[0.822,1],[0.943,1],[0.969,0.9],[0.987,1],[1.005,0],[1.14,0.01],[1.162,1],[1.261,1],[1.279,0.95],[1.308,0],[1.462,0],[1.48,0.03],[1.491,0.98],[1.506,0.02],[1.535,0.03],[1.645,0.01],[1.663,0.05],[1.681,0.02],[1.754,0],[1.78,1],[1.809,1],[1.827,0.1],[1.871,0],[1.89,1],[1.937,0.95],[1.955,0.77],[1.974,1],[1.992,0.95],[2.029,0.85],[2.065,0.9],[2.102,0],[2.156,0.02],[2.193,0],[2.266,0.03],[2.284,0.18],[2.303,0.02],[2.394,0],[2.405,0.83],[2.42,0],[2.456,0.02],[2.467,0.12],[2.485,0],[2.515,0.9],[2.54,1],[2.65,1],[2.668,0.9],[2.705,1],[2.767,0],[2.906,0],[2.924,0.69],[2.942,0],[2.979,0.02],[3.0,0],[3.03,0.03],[3.11,0.02],[3.14,0.06],[3.18,0.01],[3.25,0.03],[3.32,0.05],[3.40,0.02],[3.472,0.08],[3.49,0.9],[3.509,1],[3.60,1],[3.618,0.97],[3.655,0],[3.673,1],[3.801,0.98],[3.838,0.95],[3.856,0.97],[4.002,0],[4.13,0],[4.156,1],[4.178,0.05],[4.221,0.02],[4.247,0.95],[4.276,1],[4.295,0.85],[4.313,1],[4.349,1],[4.423,1],[4.441,0],[4.452,0.95],[4.496,1],[4.532,0.64],[4.55,0.95],[4.587,0.8],[4.605,0.95],[4.624,0.75],[4.642,0],[4.697,0],[4.715,1],[4.751,0.97],[4.77,0.78],[4.788,1],[4.861,0.97],[4.89,0.95],[4.916,0],[4.971,0.07],[4.989,0.02],[5.007,0],[5.037,1],[5.099,0.95],[5.117,0.8],[5.154,0.66],[5.19,0.8],[5.227,0.9],[5.263,0.97],[5.336,0.97],[5.391,1],[5.409,0.5],[5.428,0.02],[5.519,0.02]];
const jb862_II = [[0.023,0.98],[0.05,0.95],[0.095,0.97],[0.14,0.87],[0.176,0.9],[0.207,0.83],[0.239,0.71],[0.266,0.95],[0.284,0.75],[0.297,0.73],[0.32,0.97],[0.41,1],[0.446,0.88],[0.464,0.97],[0.568,1],[0.59,0.97],[0.604,0.54],[0.622,0.95],[0.635,0],[0.748,0.03],[0.77,0.05],[0.793,0.02],[0.815,1],[0.86,0.97],[0.973,1],[1.14,1],[1.162,0],[1.198,0],[1.221,1],[1.243,0.95],[1.288,1],[1.401,1],[1.424,0],[1.514,0],[1.536,0.97],[1.559,1],[1.626,0.97],[1.649,1],[1.852,1],[1.874,0],[1.942,0],[1.964,1],[2.032,0],[2.054,0],[2.086,1],[2.122,0.97],[2.234,1],[2.289,1],[2.302,0],[2.325,0],[2.338,1],[2.37,0.19],[2.392,0.95],[2.415,0],[2.55,0],[2.572,1],[2.775,1],[2.82,0.02],[2.933,0],[3.0,1],[3.338,1],[3.361,0],[3.406,0.02],[3.428,1],[3.464,1],[3.496,0],[3.518,0.05],[3.563,0],[3.609,0.03],[3.654,0.05],[3.676,0],[3.699,0.97],[3.766,0.95],[3.834,1],[3.879,0.85],[3.924,0.8],[3.946,1],[3.982,0.46],[4.0,0.97],[4.194,1],[4.23,0.9],[4.248,0.75],[4.275,0.97],[4.442,1],[4.455,0]];
const jb862_III = [[0.032,0.99],[0.077,0.97],[0.122,0.99],[0.144,0.92],[0.176,0.78],[0.203,0.92],[0.234,0.97],[0.302,0.99],[0.324,0.89],[0.347,0.99],[0.482,0.99],[0.505,0.92],[0.527,0.99],[0.662,1],[0.685,0.99],[0.716,0],[0.743,0.92],[0.775,0.97],[0.82,0.99],[0.91,0.99],[0.955,0.92],[0.978,0],[1.023,0.04],[1.113,0],[1.135,0.04],[1.167,0.99],[1.248,0.99],[1.293,0.99],[1.315,0],[1.338,0.99],[1.586,0.99],[1.608,0],[1.631,0.99],[1.734,0.99],[1.743,0.43],[1.766,0.99],[1.924,1],[2.014,0.99],[2.036,0.86],[2.059,0.92],[2.104,0.89],[2.149,0.96],[2.194,0.89],[2.262,0.99],[2.284,0],[2.307,0.99],[2.428,0.99]];

const jb864_I = [[0.037,0.98],[0.073,0.93],[0.091,0.98],[0.128,0.93],[0.164,0.97],[0.201,0.88],[0.227,0.73],[0.249,0.95],[0.274,0.68],[0.292,0.85],[0.322,0.8],[0.347,0.9],[0.366,0.83],[0.395,0.97],[0.42,0.71],[0.446,0.93],[0.475,0.98],[0.512,0.9],[0.548,0.97],[0.585,0.95],[0.621,0.85],[0.651,0.75],[0.676,0.9],[0.713,0.97],[0.749,0.88],[0.768,0.95],[0.789,0.45],[0.811,0.95],[0.841,0.9],[0.877,0.98],[0.914,0.93],[0.95,0.97],[0.987,1],[1.042,0.97],[1.078,0.87],[1.096,0.95],[1.133,0.93],[1.17,0.98],[1.206,0.82],[1.235,0.97],[1.261,0.88],[1.298,0.82],[1.323,0.95],[1.371,1],[1.444,1],[1.499,0.97],[1.528,0.92],[1.553,0.95],[1.59,0.9],[1.626,0.98],[1.663,0.97],[1.681,0.9],[1.707,0.68],[1.725,0.9],[1.773,0.95],[1.827,0.97],[1.882,0.92],[1.908,0.71],[1.937,0.97],[2.01,1],[2.083,0.97],[2.138,0.93],[2.175,1],[2.266,1],[2.339,0.97],[2.412,0.98],[2.485,0.97],[2.558,1],[2.632,0.93],[2.657,0.87],[2.686,0.97],[2.778,0.97],[2.796,0.5],[2.814,0.05],[2.851,0.03],[2.906,0.02],[2.961,0],[2.971,0],[2.99,0.95],[3.015,0.97],[3.041,0.78],[3.063,0.97],[3.143,0.98],[3.198,0.97],[3.224,0.9],[3.253,0.97],[3.308,0.97],[3.363,1],[3.399,0.97],[3.454,0.95],[3.509,1],[3.564,0.97],[3.60,0.92],[3.637,0.97],[3.673,0.95],[3.71,0.9],[3.728,0.7],[3.746,0.95],[3.838,0.97],[3.984,0.97],[4.002,0.9],[4.02,0.83],[4.039,0.97],[4.075,0.85],[4.112,0.95],[4.148,0.97],[4.185,0.93],[4.221,0.97],[4.24,0.92],[4.265,0.61],[4.295,0.9],[4.331,0.97],[4.368,0.93],[4.404,0.98],[4.441,0.95],[4.496,1],[4.605,0.97],[4.678,1],[4.708,0.95],[4.718,0.41],[4.733,0.95],[4.77,0.9],[4.825,0.97],[4.861,0.83],[4.898,0.97],[4.934,0.9],[4.971,0.97],[5.007,0.95],[5.044,0.85],[5.062,0.75],[5.088,0.95],[5.117,0.97],[5.146,0.9],[5.161,0.07],[5.19,0.06],[5.208,0.1],[5.227,0.9],[5.263,0.95],[5.30,0.97],[5.336,0.93],[5.391,0.97],[5.409,0.95],[5.428,0.02],[5.453,0.01],[5.471,0.25],[5.482,0.12],[5.494,0.37],[5.508,0.05],[5.519,0.23]];
const jb864_II = [[0.023,0.97],[0.072,0.98],[0.117,0.95],[0.162,0.98],[0.207,0.97],[0.252,1],[0.297,0.98],[0.32,0.9],[0.342,0.75],[0.356,0.44],[0.374,0.85],[0.396,0.9],[0.419,0.83],[0.446,0.71],[0.464,0.95],[0.5,0.98],[0.545,0.93],[0.59,1],[0.635,0.95],[0.68,0.98],[0.725,0.9],[0.761,0.95],[0.793,0.88],[0.815,0.97],[0.851,0.8],[0.874,0.85],[1.032,0.78],[1.05,0.97],[1.108,1],[1.153,0.93],[1.176,0.97],[1.198,0.9],[1.221,0.8],[1.234,0.51],[1.252,0.9],[1.288,0.85],[1.311,0.93],[1.333,0.68],[1.356,0.8],[1.378,0.95],[1.424,1],[1.469,0.97],[1.514,0.9],[1.559,0.93],[1.604,0.97],[1.649,0.93],[1.694,0.85],[1.739,0.8],[1.784,0.8],[1.806,0.9],[1.852,0.97],[1.897,1],[1.942,0.97],[1.987,0.9],[2.009,0.97],[2.054,1],[2.122,0.97],[2.167,0.93],[2.212,0.97],[2.28,0.95],[2.325,0.97],[2.392,0.93],[2.437,0.76],[2.46,0.93],[2.505,0.97],[2.572,1],[2.64,0.97],[2.685,0.95],[2.716,0.9],[2.739,0.22],[2.762,0.95],[2.843,1],[3.023,0.98],[3.203,1],[3.383,0.97],[3.428,0.83],[3.451,0.97],[3.563,1],[3.609,0.95],[3.654,0.97],[3.699,0.88],[3.744,0.97],[3.789,0.9],[3.834,0.95],[3.879,0.88],[3.924,0.9],[3.991,0.65],[4.014,0.93],[4.059,0.85],[4.095,0.7],[4.122,0.95],[4.172,0.7],[4.185,0.54],[4.203,0.8],[4.239,0.97],[4.307,1],[4.374,1],[4.419,0.95],[4.437,0],[4.455,0]];
const jb864_III = [[0.032,0.22],[0.054,0.94],[0.099,0.97],[0.167,0.98],[0.234,0.95],[0.279,0.97],[0.324,0.9],[0.369,0.73],[0.392,0.61],[0.414,0.61],[0.428,0.78],[0.446,0.68],[0.473,0.97],[0.527,0.95],[0.572,0.98],[0.617,0.94],[0.662,0.98],[0.73,0.94],[0.775,0.9],[0.797,0.82],[0.82,0.94],[0.887,0.98],[0.978,0.97],[1.068,1],[1.135,0.95],[1.203,0.97],[1.293,0.98],[1.383,0.95],[1.451,0.9],[1.473,0.87],[1.496,0.95],[1.541,0.92],[1.631,0.97],[1.653,0.94],[1.676,0.87],[1.698,0.97],[1.743,0.99],[1.879,0.98],[1.969,0.99],[2.036,0.97],[2.059,0.89],[2.081,0.97],[2.149,0.98],[2.216,0.95],[2.248,0.94],[2.262,0.78],[2.284,0.9],[2.329,0.97],[2.397,0.98],[2.428,0.98]];

const jb869_I = [[0.072,0.02],[0.114,0.09],[0.135,0.03],[0.177,0.06],[0.211,0.01],[0.24,0.05],[0.282,0.01],[0.345,0.03],[0.408,0.01],[0.45,0.06],[0.492,0.02],[0.555,0.04],[0.597,0.02],[0.639,0.05],[0.681,0.03],[0.714,0.06],[0.744,0.02],[0.765,0.08],[0.807,0.03],[0.849,0.06],[0.891,0.02],[0.954,0.05],[0.996,0.01],[1.10,0.02],[1.18,0.01],[1.247,0.06],[1.289,0.02],[1.331,0.09],[1.361,0.01],[1.436,0.02],[1.52,0.01],[1.604,0.07],[1.638,0.02],[1.667,0.05],[1.709,0.01],[1.772,0.06],[1.814,0.01],[1.898,0.02],[2.024,0.02],[2.108,0.01],[2.192,0.02],[2.234,0],[2.276,0.12],[2.309,0.03],[2.36,0.04],[2.422,0.09],[2.452,0.03],[2.477,0.16],[2.506,0.05],[2.548,0.06],[2.59,0.03],[2.632,0.06],[2.674,0],[2.758,0.13],[2.821,0.05],[2.863,0.02],[2.926,0.03],[2.989,0.01],[3.031,0.05],[3.073,0.02],[3.115,0.06],[3.178,0.02],[3.241,0.05],[3.283,0.02],[3.325,0.04],[3.366,0.02],[3.417,0.12],[3.442,0.03],[3.471,0.09],[3.501,0.02],[3.534,0.13],[3.576,0.05],[3.618,0.05],[3.681,0.02],[3.736,0.12],[3.786,0.08],[3.849,0.06],[3.912,0.03],[3.996,0],[4.038,0.02],[4.101,0.01],[4.164,0.05],[4.206,0.01],[4.248,0.06],[4.29,0.02],[4.332,0.05],[4.395,0.02],[4.466,0.07],[4.50,0.02],[4.542,0.05],[4.584,0.01],[4.626,0.04],[4.668,0.01],[4.71,0.05],[4.751,0.02],[4.793,0.05],[4.844,0.02],[4.898,0.08],[4.919,0.14],[4.953,0.03],[4.982,0.02],[5.045,0.01],[5.129,0.01],[5.213,0.04],[5.255,0.02],[5.297,0.03],[5.36,0.01],[5.402,0.04],[5.444,0.01],[5.486,0.02],[5.507,0.01]];
const jb869_II = [[0.038,0.02],[0.065,0.01],[0.092,0.01],[0.14,0.02],[0.192,0.06],[0.228,0.01],[0.28,0.02],[0.328,0.02],[0.364,0],[0.432,0.02],[0.465,0.01],[0.491,0.05],[0.52,0.02],[0.545,0.02],[0.59,0.04],[0.627,0.09],[0.65,0.03],[0.681,0.04],[0.715,0.02],[0.749,0.05],[0.817,0.02],[0.862,0.01],[1.043,0.01],[1.07,0.03],[1.098,0.05],[1.13,0.02],[1.156,0.03],[1.19,0.05],[1.215,0.09],[1.245,0.02],[1.27,0.03],[1.3,0.06],[1.338,0.08],[1.36,0.03],[1.397,0.1],[1.42,0.04],[1.451,0.06],[1.496,0.02],[1.541,0],[1.632,0],[1.745,0.02],[1.813,0.01],[1.868,0.08],[1.895,0.02],[1.926,0.06],[1.972,0.01],[2.02,0.02],[2.062,0.05],[2.13,0],[2.266,0.01],[2.38,0.02],[2.425,0.08],[2.46,0.02],[2.515,0.03],[2.545,0.05],[2.574,0.17],[2.6,0.03],[2.628,0.04],[2.67,0.02],[2.719,0.07],[2.76,0.02],[2.832,0.03],[2.87,0.05],[2.9,0.07],[2.935,0.02],[2.968,0.04],[3.0,0.08],[3.027,0.12],[3.055,0.03],[3.081,0.06],[3.11,0.02],[3.136,0.09],[3.165,0.03],[3.194,0.05],[3.23,0.02],[3.263,0.08],[3.3,0.03],[3.33,0.07],[3.36,0.02],[3.398,0.05],[3.466,0],[3.534,0.01],[3.58,0],[3.625,0.02],[3.67,0.01],[3.715,0.04],[3.76,0.03],[3.806,0.1],[3.83,0.04],[3.86,0.1],[3.89,0.03],[3.919,0.04],[3.987,0.01],[4.041,0.08],[4.07,0.02],[4.1,0.02],[4.146,0.07],[4.18,0.03],[4.214,0.05],[4.228,1],[4.28,1],[4.295,0.02],[4.349,0.01],[4.395,0.02],[4.422,0.43],[4.44,0.02]];
const jb869_III = [[0.044,0],[0.098,0.03],[0.153,0.2],[0.189,0.08],[0.212,0.12],[0.257,0.05],[0.303,0.08],[0.348,0.03],[0.394,0.02],[0.439,0.01],[0.508,0.12],[0.553,0.07],[0.599,0.13],[0.635,0.08],[0.667,0.15],[0.699,0.05],[0.758,0.03],[0.803,0.01],[0.871,0.13],[0.908,0.02],[0.94,0.1],[0.985,0],[1.099,0.02],[1.235,0.01],[1.303,0.08],[1.372,0.1],[1.44,0.05],[1.485,0.18],[1.531,0.08],[1.576,0.04],[1.622,0.15],[1.667,0.02],[1.699,0.07],[1.735,0.03],[1.817,0.2],[1.849,0.05],[1.917,0.12],[1.963,0.06],[2.008,0.02],[2.054,0.05],[2.108,0.18],[2.154,0.06],[2.19,0.14],[2.236,0.05],[2.281,0.17],[2.327,0.04],[2.372,0.02],[2.427,0.1]];

// Row x column lookup
const tracks = [
  [jb845_I, jb845_II, jb845_III],
  [jb846_I, jb846_II, jb846_III],
  [jb848_I, jb848_II, jb848_III],
  [jb852_I, jb852_II, jb852_III],
  [jb853_I, jb853_II, jb853_III],
  [jb854_I, jb854_II, jb854_III],
  [jb858_I, jb858_II, jb858_III],
  [jb862_I, jb862_II, jb862_III],
  [jb864_I, jb864_II, jb864_III],
  [jb869_I, jb869_II, jb869_III]
];

// Panel geometry (pixels) and x ranges (Mb) per chromosome column
const colLayout = [
  {left: 63.5, width: 499.5, min: 0.035, max: 5.512, ticks: ticksI},
  {left: 571, width: 404.5, min: 0.032, max: 4.458, ticks: ticksII},
  {left: 984.5, width: 218.5, min: 0.034, max: 2.435, ticks: ticksIII}
];
function rowTop(r) { return r === 0 ? 26.7 : 126.7 + (r - 1) * 124.29; }
function rowHeight(r) { return r === 0 ? 80.6 : 104.3; }

function sciLabel(v) {
  const s = (v * 1e6).toExponential(1);
  const parts = s.split('e');
  const sign = parts[1][0];
  const digits = parts[1].slice(1).padStart(2, '0');
  return parts[0] + 'e' + sign + digits;
}

const FONT = '"Liberation Sans", Arial, sans-serif';
const AXIS_GREY = '#c2c2c2';
const TICK_COL = '#333333';
const LABEL_COL = '#4d4d4d';

const grids = [], xAxes = [], yAxes = [], series = [];
let idx = 0;
for (let r = 0; r < samples.length; r++) {
  for (let c = 0; c < 3; c++) {
    const L = colLayout[c];
    const lastRow = r === samples.length - 1;
    grids.push({left: L.left, top: rowTop(r), width: L.width, height: rowHeight(r), containLabel: false});
    xAxes.push({
      type: 'value', gridIndex: idx, min: L.min, max: L.max,
      axisLine: {show: true, lineStyle: {color: AXIS_GREY, width: 1.4}},
      axisTick: {show: true, length: 4, lineStyle: {color: TICK_COL, width: 1}, customValues: L.ticks},
      axisLabel: {
        show: lastRow, customValues: L.ticks, rotate: 45, margin: 4,
        verticalAlign: 'top',
        fontSize: 12, color: LABEL_COL, fontFamily: FONT, formatter: sciLabel
      },
      splitLine: {show: false}
    });
    yAxes.push({
      type: 'value', gridIndex: idx, min: 0, max: 1, interval: 0.25,
      axisLine: {show: c === 0, lineStyle: {color: AXIS_GREY, width: 1.4}},
      axisTick: {show: c === 0, length: 3, lineStyle: {color: TICK_COL, width: 1}},
      axisLabel: {
        show: c === 0, margin: 3, fontSize: 12.5, color: LABEL_COL, fontFamily: FONT,
        formatter: v => v.toFixed(2)
      },
      splitLine: {show: false},
      name: c === 0 ? 'PC1 - ' + samples[r] : '',
      nameLocation: 'middle', nameRotate: 90, nameGap: 37,
      nameTextStyle: {fontSize: 14.5, color: '#000', fontFamily: FONT}
    });
    series.push({
      type: 'line', xAxisIndex: idx, yAxisIndex: idx,
      data: tracks[r][c], showSymbol: false, symbol: 'none',
      clip: true, silent: true,
      lineStyle: {color: chromColors[c], width: 1},
      markLine: {
        silent: true, symbol: ['none', 'none'], animation: false,
        label: {show: false},
        lineStyle: {color: '#a0a0a0', width: 1, type: 'solid'},
        data: [{yAxis: 0.5}]
      },
      z: 3
    });
    idx++;
  }
}

const graphics = chromosomes.map((name, c) => ({
  type: 'text',
  x: colLayout[c].left + colLayout[c].width / 2, y: 14,
  style: {text: name, textAlign: 'center', textVerticalAlign: 'middle', fontSize: 13, fill: '#1a1a1a', fontFamily: FONT}
}));
graphics.push({
  type: 'text', x: 633, y: 1285,
  style: {text: 'Position', textAlign: 'center', textVerticalAlign: 'middle', fontSize: 14.5, fill: '#000', fontFamily: FONT}
});

const chart = echarts.init(document.getElementById('chart'), null, {renderer: 'canvas'});
chart.setOption({
  animation: false,
  backgroundColor: '#ffffff',
  grid: grids,
  xAxis: xAxes,
  yAxis: yAxes,
  series: series,
  graphic: graphics
});
</script>
</body>
</html>
